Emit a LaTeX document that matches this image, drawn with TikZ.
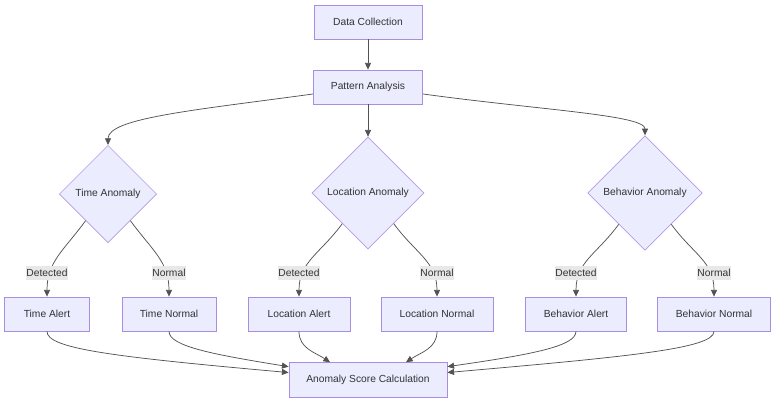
\documentclass[tikz,border=0pt]{standalone}
\usepackage{fontspec}
\setmainfont{Liberation Sans}
\usetikzlibrary{shapes.geometric,arrows.meta}
\definecolor{nodefill}{HTML}{ECECFF}
\definecolor{nodeline}{HTML}{9370DB}
\definecolor{edgecol}{HTML}{333333}
\definecolor{lblfill}{HTML}{E8E8E8}

\begin{document}
\begin{tikzpicture}[
  x=0.75pt, y=-0.75pt,
  box/.style={rectangle, draw=nodeline!80, fill=nodefill, line width=0.6pt,
              minimum height=25.5pt, inner sep=0pt, text=edgecol,
              font=\fontsize{7.7}{9}\selectfont},
  decision/.style={diamond, aspect=1, draw=nodeline!70, fill=nodefill,
                   line width=0.5pt, inner sep=0pt, text=edgecol,
                   font=\fontsize{7.7}{9}\selectfont},
  lbl/.style={fill=lblfill, inner xsep=0.6pt, inner ysep=0pt,
              minimum height=10.5pt, text=edgecol,
              font=\fontsize{7.7}{9}\selectfont},
  flow/.style={draw=edgecol!85, line width=0.55pt,
               -{Triangle[length=5pt,width=4.5pt]}}
]
  \useasboundingbox[fill=white] (0,0) rectangle (784,407);

  % Top of the flow
  \node[box, minimum width=81pt] (collect) at (368,22) {Data Collection};
  \node[box, minimum width=82pt] (pattern) at (368,87) {Pattern Analysis};

  % Three checks
  \node[decision, minimum width=73pt, minimum height=73pt] (timeA) at (108,194) {Time Anomaly};
  \node[decision, minimum width=84pt, minimum height=84pt] (locA)  at (368,193) {Location Anomaly};
  \node[decision, minimum width=86pt, minimum height=86pt] (behA)  at (645,193) {Behavior Anomaly};

  % Outcomes
  \node[box, minimum width=64pt]   (timeAl) at (47,314)  {Time Alert};
  \node[box, minimum width=70.5pt] (timeNo) at (169,314) {Time Normal};
  \node[box, minimum width=76.5pt] (locAl)  at (299,314) {Location Alert};
  \node[box, minimum width=84pt]   (locNo)  at (437,314) {Location Normal};
  \node[box, minimum width=76pt]   (behAl)  at (576,314) {Behavior Alert};
  \node[box, minimum width=85pt]   (behNo)  at (714,314) {Behavior Normal};

  \node[box, minimum width=118.5pt, minimum height=26pt] (score) at (368,380)
    {Anomaly Score Calculation};

  % Edges from the top
  \draw[flow] (collect) -- (pattern);
  \draw[flow] (pattern) -- (locA);
  \draw[flow] ([yshift=-5.25pt]pattern.west) .. controls (196,110) and (108,118) .. (timeA.north);
  \draw[flow] ([yshift=-5.25pt]pattern.east) .. controls (540,110) and (645,115) .. (behA.north);

  % Decision branches with their labels
  \foreach \d/\l/\r in {timeA/timeAl/timeNo, locA/locAl/locNo, behA/behAl/behNo} {
    \draw[flow] (\d.230) .. controls +(-22,30) and +(0,-35) .. (\l.north);
    \draw[flow] (\d.310) .. controls +(22,30) and +(0,-35) .. (\r.north);
    \node[lbl] (\l-lbl) at ([yshift=18pt]\l.north) {Detected};
    \node[lbl] (\r-lbl) at ([yshift=18pt]\r.north) {Normal};
  }

  % Into the score
  \draw[flow] (timeAl.south) .. controls +(0,17) and +(-179,-16) .. ([yshift=5.6pt]score.west);
  \draw[flow] (timeNo.south) .. controls +(0,15) and +(-74,-12) .. ([yshift=10pt]score.west);
  \draw[flow] (locAl.south) .. controls +(0,17) and +(-15,-10) .. ([xshift=-28.5pt]score.north);
  \draw[flow] (locNo.south) .. controls +(0,17) and +(15,-10) .. ([xshift=28.5pt]score.north);
  \draw[flow] (behAl.south) .. controls +(0,15) and +(83,-12) .. ([yshift=10pt]score.east);
  \draw[flow] (behNo.south) .. controls +(0,17) and +(183,-16) .. ([yshift=5.6pt]score.east);
\end{tikzpicture}
\end{document}
